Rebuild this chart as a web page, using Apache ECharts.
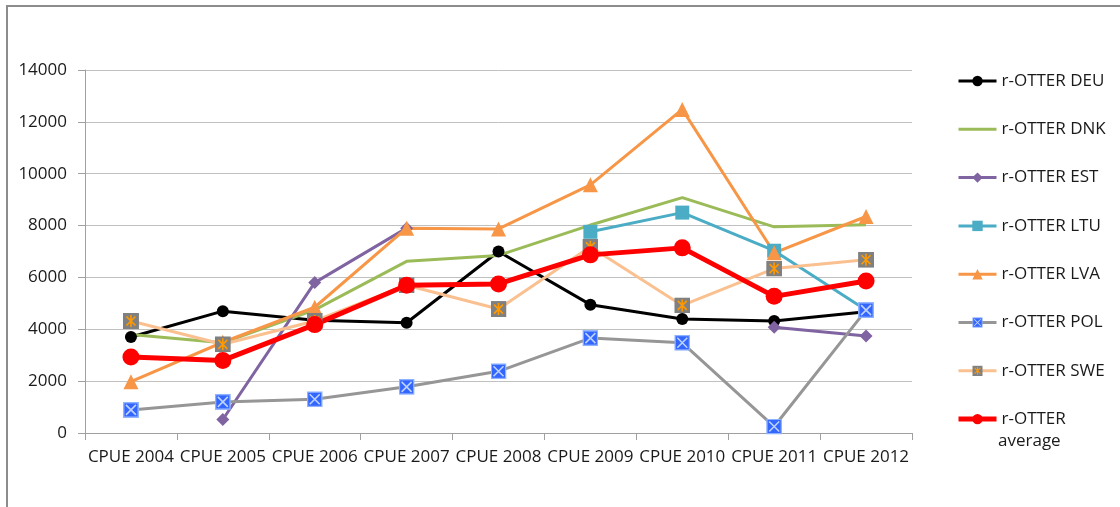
<!DOCTYPE html>
<html>
<head>
<meta charset="utf-8">
<script src="https://cdn.jsdelivr.net/npm/echarts@6/dist/echarts.min.js"></script>
<style>
  html, body { margin: 0; padding: 0; background: #fff; }
  #chart { width: 1120px; height: 507px; }
</style>
</head>
<body>
<div id="chart"></div>
<script>
const categories = ['CPUE 2004', 'CPUE 2005', 'CPUE 2006', 'CPUE 2007', 'CPUE 2008', 'CPUE 2009', 'CPUE 2010', 'CPUE 2011', 'CPUE 2012']

const deu = [3700, 4700, 4350, 4250, 7000, 4950, 4400, 4320, 4680]
const dnk = [3800, 3480, 4750, 6620, 6850, 8020, 9080, 7950, 8030]
const est = [null, 520, 5800, 7900, null, null, null, 4080, 3740]
const ltu = [null, null, null, null, null, 7760, 8500, 7030, 4740]
const lva = [1980, 3500, 4850, 7900, 7870, 9570, 12480, 6950, 8350]
const pol = [890, 1200, 1300, 1780, 2380, 3660, 3480, 250, 4740]
const swe = [4320, 3420, 4320, 5700, 4780, 7180, 4920, 6340, 6680]
const avg = [2930, 2800, 4180, 5700, 5750, 6870, 7140, 5270, 5860]

const yTicks = {min: 0, max: 14000, interval: 2000}

function svgIcon(svg) {
  return 'image://data:image/svg+xml;utf8,' + encodeURIComponent(svg)
}

const polMark = svgIcon(
  "<svg xmlns='http://www.w3.org/2000/svg' width='16' height='16'>" +
  "<rect x='0.75' y='0.75' width='14.5' height='14.5' fill='#3366ff' stroke='#8db2ff' stroke-width='1.5'/>" +
  "<path d='M3 3L13 13M13 3L3 13' stroke='#bcd2ff' stroke-width='1.6'/></svg>")

const sweMark = svgIcon(
  "<svg xmlns='http://www.w3.org/2000/svg' width='16' height='16'>" +
  "<rect x='0' y='0' width='16' height='16' fill='#808080'/>" +
  "<path d='M8 2V14M3.5 3.5L12.5 12.5M12.5 3.5L3.5 12.5' stroke='#ff9900' stroke-width='1.6'/></svg>")

const font = '"Open Sans", sans-serif'

function line(name, data, color, symbol, size, width) {
  return {
    name: name,
    type: 'line',
    data: data,
    symbol: symbol,
    symbolSize: size,
    lineStyle: {color: color, width: width || 3},
    itemStyle: {color: color},
    emphasis: {disabled: true}
  }
}

const series = [
  line('r-OTTER DEU', deu, '#000000', 'circle', 12),
  Object.assign(line('r-OTTER DNK', dnk, '#9bbb59', 'none', 0), {itemStyle: {color: 'rgba(0,0,0,0)'}}),
  line('r-OTTER EST', est, '#8064a2', 'diamond', 13),
  line('r-OTTER LTU', ltu, '#4bacc6', 'rect', 14),
  line('r-OTTER LVA', lva, '#f79646', 'triangle', 15),
  Object.assign(line('r-OTTER POL', pol, '#969696', polMark, 16), {itemStyle: {color: '#3366ff'}}),
  Object.assign(line('r-OTTER SWE', swe, '#fac090', sweMark, 16), {itemStyle: {color: '#808080'}}),
  line('r-OTTER average', avg, '#ff0000', 'circle', 17, 5)
]

const chart = echarts.init(document.getElementById('chart'))
const option = {
  animation: false,
  backgroundColor: '#fff',
  textStyle: {fontFamily: font},
  grid: {left: 85, right: 208, top: 70, bottom: 74, containLabel: false},
  xAxis: {
    type: 'category',
    data: categories,
    boundaryGap: true,
    axisLine: {lineStyle: {color: '#a0a0a0', width: 1}},
    axisTick: {show: true, length: 7, alignWithLabel: false, lineStyle: {color: '#a0a0a0'}},
    axisLabel: {color: '#1a1a1a', fontSize: 17, fontFamily: font, margin: 16, interval: 0},
    splitLine: {show: false}
  },
  yAxis: {
    type: 'value',
    min: yTicks.min,
    max: yTicks.max,
    interval: yTicks.interval,
    axisLine: {show: true, lineStyle: {color: '#a0a0a0', width: 1}},
    axisTick: {show: true, length: 7, lineStyle: {color: '#a0a0a0'}},
    axisLabel: {color: '#1a1a1a', fontSize: 17, fontFamily: font, margin: 18, formatter: v => String(v)},
    splitLine: {lineStyle: {color: '#c0c0c0', width: 1}}
  },
  legend: {
    orient: 'vertical',
    left: 951,
    top: 67,
    itemWidth: 38,
    itemHeight: 13,
    itemGap: 30.3,
    textStyle: {color: '#1a1a1a', fontSize: 17, fontFamily: font, lineHeight: 18},
    data: series.map(s => ({name: s.name, lineStyle: {width: s.lineStyle.width}})),
    formatter: function (name) {
      return name === 'r-OTTER average' ? 'r-OTTER' : name
    },
    selectedMode: false
  },
  graphic: [
    {
      type: 'rect',
      shape: {x: 7, y: 6, width: 1200, height: 600},
      style: {fill: 'none', stroke: '#8c8c8c', lineWidth: 2},
      silent: true
    },
    {
      type: 'text',
      left: 998,
      top: 433,
      style: {text: 'average', fontSize: 17, fontFamily: font, fill: '#1a1a1a'}
    }
  ],
  series: series
}
chart.setOption(option)
</script>
</body>
</html>
